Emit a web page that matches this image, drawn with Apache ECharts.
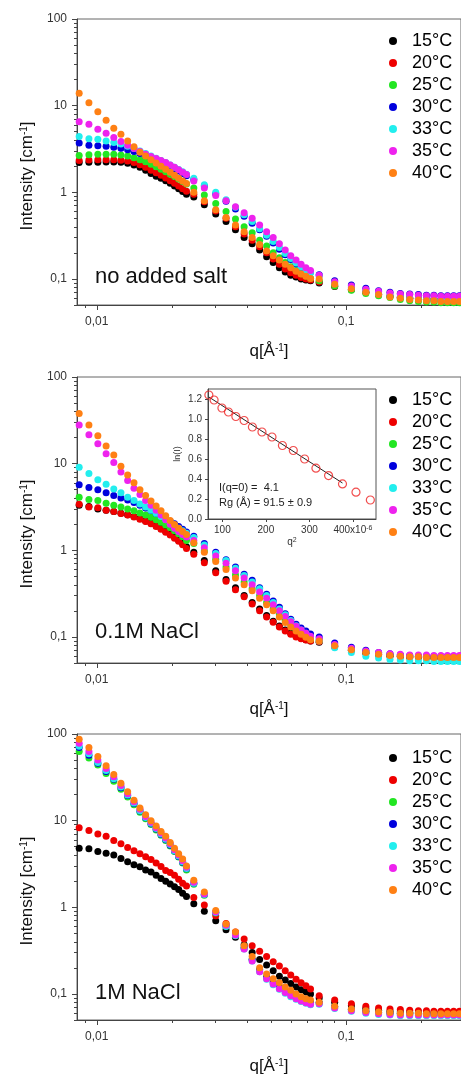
<!DOCTYPE html>
<html><head><meta charset="utf-8">
<script src="https://cdn.jsdelivr.net/npm/echarts@6/dist/echarts.min.js"></script>
<style>html,body{margin:0;padding:0;background:#fff}#c{width:461px;height:1076px}</style>
</head><body><div id="c"></div>
<script>
// ---- data ----
const q = [0.0085,0.0093,0.0101,0.0109,0.0117,0.0125,0.0133,0.0141,0.0149,0.0157,0.0165,0.0173,0.0181,0.0189,0.0197,0.0205,0.0213,0.0221,0.0229,
  0.0245,0.027,0.030,0.033,0.036,0.039,0.042,0.045,0.048,0.051,0.054,0.057,0.060,0.063,0.066,0.069,0.072,
  0.078,0.09,0.105,0.12,0.135,0.15,0.165,0.18,0.195,0.21,0.225,0.24,0.255,0.27,0.285];
const temps = ['15°C','20°C','25°C','30°C','33°C','35°C','40°C'];
const colors = ['#000000','#ee0000','#22e622','#0000dd','#22eeee','#ee22ee','#ff8014'];
const panelLabels = ['no added salt','0.1M NaCl','1M NaCl'];

// panel 1: no added salt
const p1_15 = [2.2,2.22,2.22,2.23,2.24,2.22,2.16,2.06,1.94,1.8,1.65,1.53,1.45,1.36,1.27,1.18,1.1,1.02,0.95,
  0.88,0.72,0.56,0.46,0.37,0.30,0.255,0.215,0.18,0.155,0.135,0.12,0.11,0.105,0.10,0.097,0.095,
  0.09,0.082,0.075,0.07,0.066,0.063,0.061,0.06,0.059,0.058,0.058,0.057,0.057,0.057,0.056];
const p1_20 = [2.33,2.36,2.38,2.38,2.38,2.35,2.3,2.2,2.08,1.95,1.8,1.68,1.57,1.46,1.36,1.27,1.18,1.1,1.03,
  0.95,0.78,0.61,0.5,0.4,0.33,0.28,0.235,0.2,0.17,0.148,0.13,0.118,0.11,0.104,0.1,0.097,
  0.092,0.083,0.076,0.07,0.066,0.063,0.061,0.06,0.059,0.058,0.058,0.057,0.057,0.057,0.056];
const p1_25 = [2.65,2.72,2.75,2.75,2.74,2.7,2.62,2.5,2.38,2.25,2.1,1.97,1.85,1.73,1.62,1.52,1.42,1.33,1.25,
  1.12,0.93,0.74,0.6,0.49,0.4,0.34,0.28,0.24,0.2,0.175,0.155,0.138,0.125,0.115,0.108,0.102,
  0.095,0.083,0.074,0.068,0.064,0.061,0.058,0.056,0.055,0.054,0.054,0.053,0.053,0.053,0.053];
const p1_30 = [3.7,3.5,3.45,3.4,3.32,3.22,3.1,2.95,2.8,2.65,2.5,2.36,2.23,2.1,1.98,1.87,1.76,1.65,1.55,
  1.4,1.18,0.96,0.79,0.64,0.53,0.44,0.37,0.31,0.26,0.22,0.19,0.167,0.15,0.137,0.127,0.12,
  0.112,0.095,0.085,0.078,0.073,0.07,0.068,0.067,0.066,0.065,0.065,0.064,0.064,0.064,0.064];
const p1_33 = [4.4,4.15,4.1,3.92,3.75,3.6,3.4,3.2,3.0,2.8,2.62,2.47,2.33,2.2,2.07,1.95,1.83,1.72,1.62,
  1.45,1.22,1.0,0.82,0.67,0.55,0.46,0.38,0.32,0.27,0.23,0.197,0.172,0.153,0.138,0.127,0.118,
  0.108,0.09,0.08,0.073,0.068,0.064,0.062,0.06,0.059,0.058,0.058,0.057,0.057,0.057,0.057];
const p1_35 = [6.5,6.1,5.35,4.8,4.3,3.85,3.5,3.2,2.95,2.75,2.58,2.45,2.32,2.2,2.07,1.94,1.82,1.7,1.6,
  1.35,1.12,0.92,0.8,0.68,0.58,0.5,0.42,0.35,0.3,0.255,0.215,0.185,0.165,0.148,0.135,0.125,
  0.11,0.093,0.083,0.076,0.072,0.069,0.067,0.066,0.065,0.064,0.064,0.063,0.063,0.063,0.063];
const p1_40 = [13.9,10.8,8.5,6.8,5.5,4.66,3.9,3.35,2.9,2.62,2.38,2.18,2.0,1.85,1.7,1.57,1.45,1.35,1.26,
  1.0,0.8,0.63,0.51,0.42,0.35,0.3,0.25,0.21,0.185,0.165,0.148,0.135,0.123,0.114,0.107,0.101,
  0.1,0.087,0.077,0.07,0.066,0.062,0.06,0.058,0.057,0.056,0.056,0.055,0.055,0.055,0.055];

// panel 2: 0.1M NaCl
const p2_15 = [3.3,3.2,3.0,2.9,2.8,2.68,2.57,2.45,2.32,2.18,2.05,1.92,1.78,1.65,1.53,1.41,1.3,1.2,1.1,
  0.95,0.76,0.58,0.46,0.37,0.3,0.25,0.21,0.177,0.152,0.134,0.12,0.11,0.102,0.097,0.093,0.09,
  0.087,0.077,0.07,0.065,0.062,0.06,0.059,0.058,0.058,0.058,0.057,0.057,0.057,0.057,0.057];
const p2_20 = [3.4,3.15,3.1,2.9,2.8,2.65,2.55,2.42,2.28,2.15,2.02,1.88,1.75,1.62,1.5,1.38,1.27,1.16,1.05,
  0.9,0.72,0.55,0.44,0.35,0.29,0.24,0.2,0.17,0.148,0.13,0.117,0.107,0.1,0.095,0.092,0.09,
  0.088,0.078,0.07,0.066,0.063,0.061,0.06,0.059,0.059,0.058,0.058,0.058,0.058,0.058,0.058];
const p2_25 = [4.1,3.85,3.75,3.5,3.3,3.15,3.0,2.85,2.7,2.55,2.4,2.25,2.1,1.96,1.82,1.68,1.55,1.43,1.3,
  1.2,0.98,0.79,0.64,0.52,0.43,0.36,0.3,0.25,0.21,0.18,0.156,0.137,0.122,0.11,0.102,0.095,
  0.092,0.08,0.072,0.067,0.064,0.062,0.061,0.06,0.06,0.059,0.059,0.059,0.059,0.059,0.059];
const p2_30 = [5.7,5.3,5.0,4.6,4.3,4.0,3.8,3.55,3.3,3.08,2.88,2.68,2.5,2.33,2.17,2.02,1.88,1.75,1.63,
  1.45,1.2,0.95,0.78,0.64,0.53,0.45,0.37,0.31,0.26,0.22,0.185,0.16,0.14,0.127,0.117,0.108,
  0.1,0.085,0.076,0.07,0.066,0.064,0.062,0.061,0.06,0.06,0.06,0.06,0.06,0.06,0.06];
const p2_33 = [9.1,7.7,6.5,5.8,5.1,4.6,4.1,3.75,3.42,3.15,2.9,2.67,2.46,2.27,2.1,1.94,1.8,1.68,1.57,
  1.4,1.15,0.92,0.76,0.62,0.51,0.43,0.36,0.3,0.25,0.21,0.18,0.155,0.135,0.12,0.11,0.1,
  0.09,0.075,0.066,0.06,0.057,0.055,0.054,0.053,0.053,0.053,0.052,0.052,0.052,0.052,0.052];
const p2_35 = [28,21.5,17,13,10.3,8.0,6.4,5.2,4.4,3.75,3.3,2.9,2.55,2.25,2.0,1.8,1.65,1.52,1.42,
  1.3,1.07,0.86,0.71,0.58,0.48,0.4,0.33,0.28,0.235,0.2,0.172,0.15,0.133,0.12,0.11,0.102,
  0.095,0.082,0.074,0.069,0.066,0.064,0.063,0.062,0.062,0.062,0.061,0.061,0.061,0.061,0.061];
const p2_40 = [38,28,21,16,12.6,9.3,7.4,6.0,5.0,4.3,3.7,3.25,2.85,2.5,2.2,1.98,1.8,1.65,1.52,
  1.22,0.95,0.74,0.6,0.48,0.4,0.34,0.28,0.235,0.2,0.17,0.147,0.13,0.117,0.107,0.099,0.093,
  0.09,0.079,0.071,0.066,0.063,0.061,0.06,0.059,0.059,0.058,0.058,0.058,0.058,0.058,0.058];

// panel 3: 1M NaCl
const p3_15 = [4.8,4.75,4.4,4.2,4.0,3.65,3.35,3.1,2.93,2.69,2.56,2.35,2.15,2.0,1.86,1.72,1.6,1.45,1.33,
  1.1,0.9,0.7,0.55,0.45,0.37,0.3,0.25,0.215,0.185,0.16,0.145,0.132,0.12,0.112,0.105,0.1,
  0.09,0.08,0.073,0.068,0.065,0.063,0.062,0.061,0.061,0.06,0.06,0.06,0.06,0.06,0.06];
const p3_20 = [8.3,7.7,7.0,6.6,5.9,5.4,4.9,4.5,4.15,3.84,3.55,3.25,2.95,2.66,2.52,2.34,2.1,1.9,1.76,
  1.3,1.06,0.8,0.65,0.52,0.43,0.36,0.31,0.27,0.235,0.21,0.185,0.165,0.148,0.135,0.124,0.114,
  0.095,0.085,0.077,0.072,0.069,0.067,0.066,0.065,0.064,0.064,0.063,0.063,0.063,0.063,0.063];
const p3_25 = [63,53,44,35,28.5,23,18.8,15.3,12.5,10.5,9,7.8,6.8,5.9,5.1,4.4,3.8,3.25,2.7,
  1.85,1.38,0.86,0.61,0.48,0.34,0.25,0.19,0.158,0.138,0.122,0.11,0.1,0.093,0.088,0.084,0.081,
  0.079,0.071,0.066,0.063,0.061,0.06,0.059,0.059,0.059,0.058,0.058,0.058,0.058,0.058,0.058];
const p3_30 = [70,57,46,37,30,24,19.5,15.8,12.9,10.8,9.2,8,6.9,6,5.2,4.45,3.85,3.3,2.78,
  1.9,1.4,0.87,0.61,0.48,0.34,0.25,0.19,0.155,0.135,0.12,0.108,0.099,0.092,0.087,0.083,0.08,
  0.079,0.071,0.066,0.063,0.061,0.06,0.059,0.059,0.059,0.058,0.058,0.058,0.058,0.058,0.058];
const p3_33 = [72,59,47,38,30.5,24.5,19.8,16,13,10.9,9.3,8.1,7.0,6.1,5.3,4.5,3.9,3.35,2.8,
  1.9,1.4,0.87,0.6,0.47,0.33,0.24,0.18,0.148,0.128,0.113,0.102,0.093,0.087,0.082,0.078,0.075,
  0.076,0.068,0.063,0.06,0.058,0.057,0.056,0.056,0.056,0.056,0.056,0.056,0.056,0.056,0.056];
const p3_35 = [78,63,50,40,32,25.5,20.5,16.5,13.5,11.2,9.6,8.3,7.2,6.3,5.4,4.6,4.0,3.45,2.9,
  1.95,1.42,0.88,0.62,0.48,0.33,0.24,0.18,0.15,0.13,0.115,0.104,0.095,0.088,0.083,0.079,0.076,
  0.077,0.069,0.064,0.061,0.059,0.058,0.057,0.057,0.057,0.057,0.057,0.057,0.057,0.057,0.057];
const p3_40 = [87,70,55,43,34,27,21.5,17.2,14,11.7,10,8.7,7.5,6.6,5.6,4.8,4.15,3.6,3.0,
  2.05,1.5,0.92,0.64,0.52,0.36,0.27,0.2,0.17,0.15,0.135,0.12,0.11,0.1,0.093,0.088,0.085,
  0.08,0.072,0.067,0.064,0.062,0.061,0.06,0.06,0.06,0.059,0.059,0.059,0.059,0.059,0.059];

// inset (Guinier plot of 0.1M NaCl)
const insetQ2 = [69,81,99,114,131,150,169,191,214,238,263,289,315,344,376,407,440];
const insetLnI = [1.24,1.19,1.11,1.07,1.025,0.985,0.92,0.87,0.82,0.735,0.685,0.6,0.508,0.434,0.351,0.268,0.19];
const fitQ2 = [69,376];
const fitLnI = [1.22,0.36];
const insetXTicks = [100,200,300,400];
const insetYTicks = [0,0.2,0.4,0.6,0.8,1.0,1.2];
const insetText = ['I(q=0) =  4.1','Rg (Å) = 91.5 ± 0.9'];

// axis ticks
const xMajor = [0.01,0.1];
const xMinor = [0.009,0.02,0.03,0.04,0.05,0.06,0.07,0.08,0.09,0.2];
const yMajor = [0.1,1,10,100];
const yMinor = [0.05,0.06,0.07,0.08,0.09,0.2,0.3,0.4,0.5,0.6,0.7,0.8,0.9,2,3,4,5,6,7,8,9,20,30,40,50,60,70,80,90];

const panelData = [
  [p1_15,p1_20,p1_25,p1_30,p1_33,p1_35,p1_40],
  [p2_15,p2_20,p2_25,p2_30,p2_33,p2_35,p2_40],
  [p3_15,p3_20,p3_25,p3_30,p3_33,p3_35,p3_40]
];

// ---- layout ----
const FONT = '"Liberation Sans", Arial, sans-serif';
const tops = [19,377,734];
const legendTops = [27,386,744];
const labelTops = [266, 621, 982];
const H = 286;
const XMIN = 0.00833, XMAX = 0.289, YMIN = 0.05, YMAX = 100;
const axisColor = '#444';
const commaFmt = v => String(+(+v).toPrecision(3)).replace('.', ',');

const grid = [], xAxis = [], yAxis = [], series = [], legend = [], title = [];
tops.forEach((t, i) => {
  grid.push({left:77, right:-3, top:t, height:H, show:true, borderColor:'#666', borderWidth:1, backgroundColor:'rgba(0,0,0,0)'});
  // main x
  xAxis.push({gridIndex:i, type:'log', logBase:10, min:XMIN, max:XMAX, position:'bottom',
    axisLine:{show:true, onZero:false, lineStyle:{color:axisColor, width:1}},
    axisTick:{show:true, length:5, customValues:xMajor, lineStyle:{color:axisColor}},
    axisLabel:{customValues:xMajor, formatter:commaFmt, margin:11, fontSize:12, color:'#333', fontFamily:FONT},
    splitLine:{show:false}, minorTick:{show:false},
    name:'q[Å{sup|-1}]', nameLocation:'middle', nameGap:38,
    nameTextStyle:{fontSize:17, color:'#111', fontFamily:FONT, rich:{sup:{fontSize:10, verticalAlign:'top', fontFamily:FONT, color:'#111'}}}
  });
  // minor x ticks
  xAxis.push({gridIndex:i, type:'log', logBase:10, min:XMIN, max:XMAX, position:'bottom', offset:0,
    axisLine:{show:false, onZero:false}, axisTick:{show:true, length:3, customValues:xMinor, lineStyle:{color:axisColor}},
    axisLabel:{show:false}, splitLine:{show:false}
  });
  yAxis.push({gridIndex:i, type:'log', logBase:10, min:YMIN, max:YMAX, position:'left',
    axisLine:{show:true, onZero:false, lineStyle:{color:axisColor, width:1}},
    axisTick:{show:true, length:5, customValues:yMajor, lineStyle:{color:axisColor}},
    axisLabel:{customValues:yMajor, formatter:commaFmt, margin:10, fontSize:12, color:'#333', fontFamily:FONT},
    splitLine:{show:false},
    name:'Intensity [cm{sup|-1}]', nameLocation:'middle', nameGap:40, nameRotate:90,
    nameTextStyle:{fontSize:17, color:'#111', fontFamily:FONT, padding:[0,28,0,0], rich:{sup:{fontSize:10, verticalAlign:'top', fontFamily:FONT, color:'#111'}}}
  });
  yAxis.push({gridIndex:i, type:'log', logBase:10, min:YMIN, max:YMAX, position:'left', offset:0,
    axisLine:{show:false, onZero:false}, axisTick:{show:true, length:3, customValues:yMinor, lineStyle:{color:axisColor}},
    axisLabel:{show:false}, splitLine:{show:false}
  });
  panelData[i].forEach((arr, k) => {
    series.push({type:'scatter', name:temps[k], xAxisIndex:2*i, yAxisIndex:2*i,
      symbol:'circle', symbolSize:7, itemStyle:{color:colors[k], opacity:1},
      data:q.map((x, j) => [x, arr[j]]), z:2+k});
  });
  legend.push({orient:'vertical', left:384, top:legendTops[i], data:temps, icon:'circle',
    itemWidth:28, itemHeight:8, itemGap:4, selectedMode:false,
    textStyle:{fontSize:18, color:'#000', fontFamily:FONT, lineHeight:18}});
});
panelLabels.forEach((s, i) => title.push({text:s, left:95, top:labelTops[i], padding:0,
  textStyle:{fontSize:22, fontWeight:'normal', color:'#111', fontFamily:FONT}}));

// inset grid
grid.push({left:208, top:389, width:168, height:130, show:true, borderColor:'#555', borderWidth:1, backgroundColor:'#fff', z:5});
xAxis.push({gridIndex:3, type:'value', min:67, max:453, z:6, position:'bottom',
  axisLine:{show:true, onZero:false, lineStyle:{color:axisColor}},
  axisTick:{show:true, length:3, customValues:insetXTicks, lineStyle:{color:axisColor}},
  axisLabel:{customValues:insetXTicks, margin:6, fontSize:10, color:'#333', fontFamily:FONT,
    formatter:v => v === 400 ? '400x10{sup|-6}' : String(v),
    rich:{sup:{fontSize:7, verticalAlign:'top', color:'#333', fontFamily:FONT}}},
  splitLine:{show:false},
  name:'q{sup|2}', nameLocation:'middle', nameGap:18,
  nameTextStyle:{fontSize:10, color:'#333', fontFamily:FONT, rich:{sup:{fontSize:7, verticalAlign:'top', color:'#333'}}}
});
yAxis.push({gridIndex:3, type:'value', min:0, max:1.3, z:6, position:'left',
  axisLine:{show:true, onZero:false, lineStyle:{color:axisColor}},
  axisTick:{show:true, length:3, customValues:insetYTicks, lineStyle:{color:axisColor}},
  axisLabel:{customValues:insetYTicks, margin:6, fontSize:10, color:'#333', fontFamily:FONT, formatter:v => (+v).toFixed(1)},
  splitLine:{show:false},
  name:'ln(I)', nameLocation:'middle', nameGap:26, nameRotate:90,
  nameTextStyle:{fontSize:9, color:'#333', fontFamily:FONT}
});
series.push({type:'scatter', name:'Guinier', xAxisIndex:6, yAxisIndex:6, z:10, clip:false,
  symbol:'circle', symbolSize:8, itemStyle:{color:'rgba(255,255,255,0)', borderColor:'#e22', borderWidth:1.2},
  data:insetQ2.map((x, j) => [x, insetLnI[j]])});
series.push({type:'line', name:'fit', xAxisIndex:6, yAxisIndex:6, z:9, symbol:'none',
  lineStyle:{color:'#222', width:1}, data:fitQ2.map((x, j) => [x, fitLnI[j]])});
title.push({text:insetText[0], left:219, top:482, padding:0, z:12, textStyle:{fontSize:11, fontWeight:'normal', color:'#222', fontFamily:FONT}});
title.push({text:insetText[1], left:219, top:497, padding:0, z:12, textStyle:{fontSize:11, fontWeight:'normal', color:'#222', fontFamily:FONT}});

const chart = echarts.init(document.getElementById('c'), null, {renderer:'canvas'});
chart.setOption({animation:false, backgroundColor:'#fff', grid, xAxis, yAxis, series, legend, title});
</script>
</body></html>
